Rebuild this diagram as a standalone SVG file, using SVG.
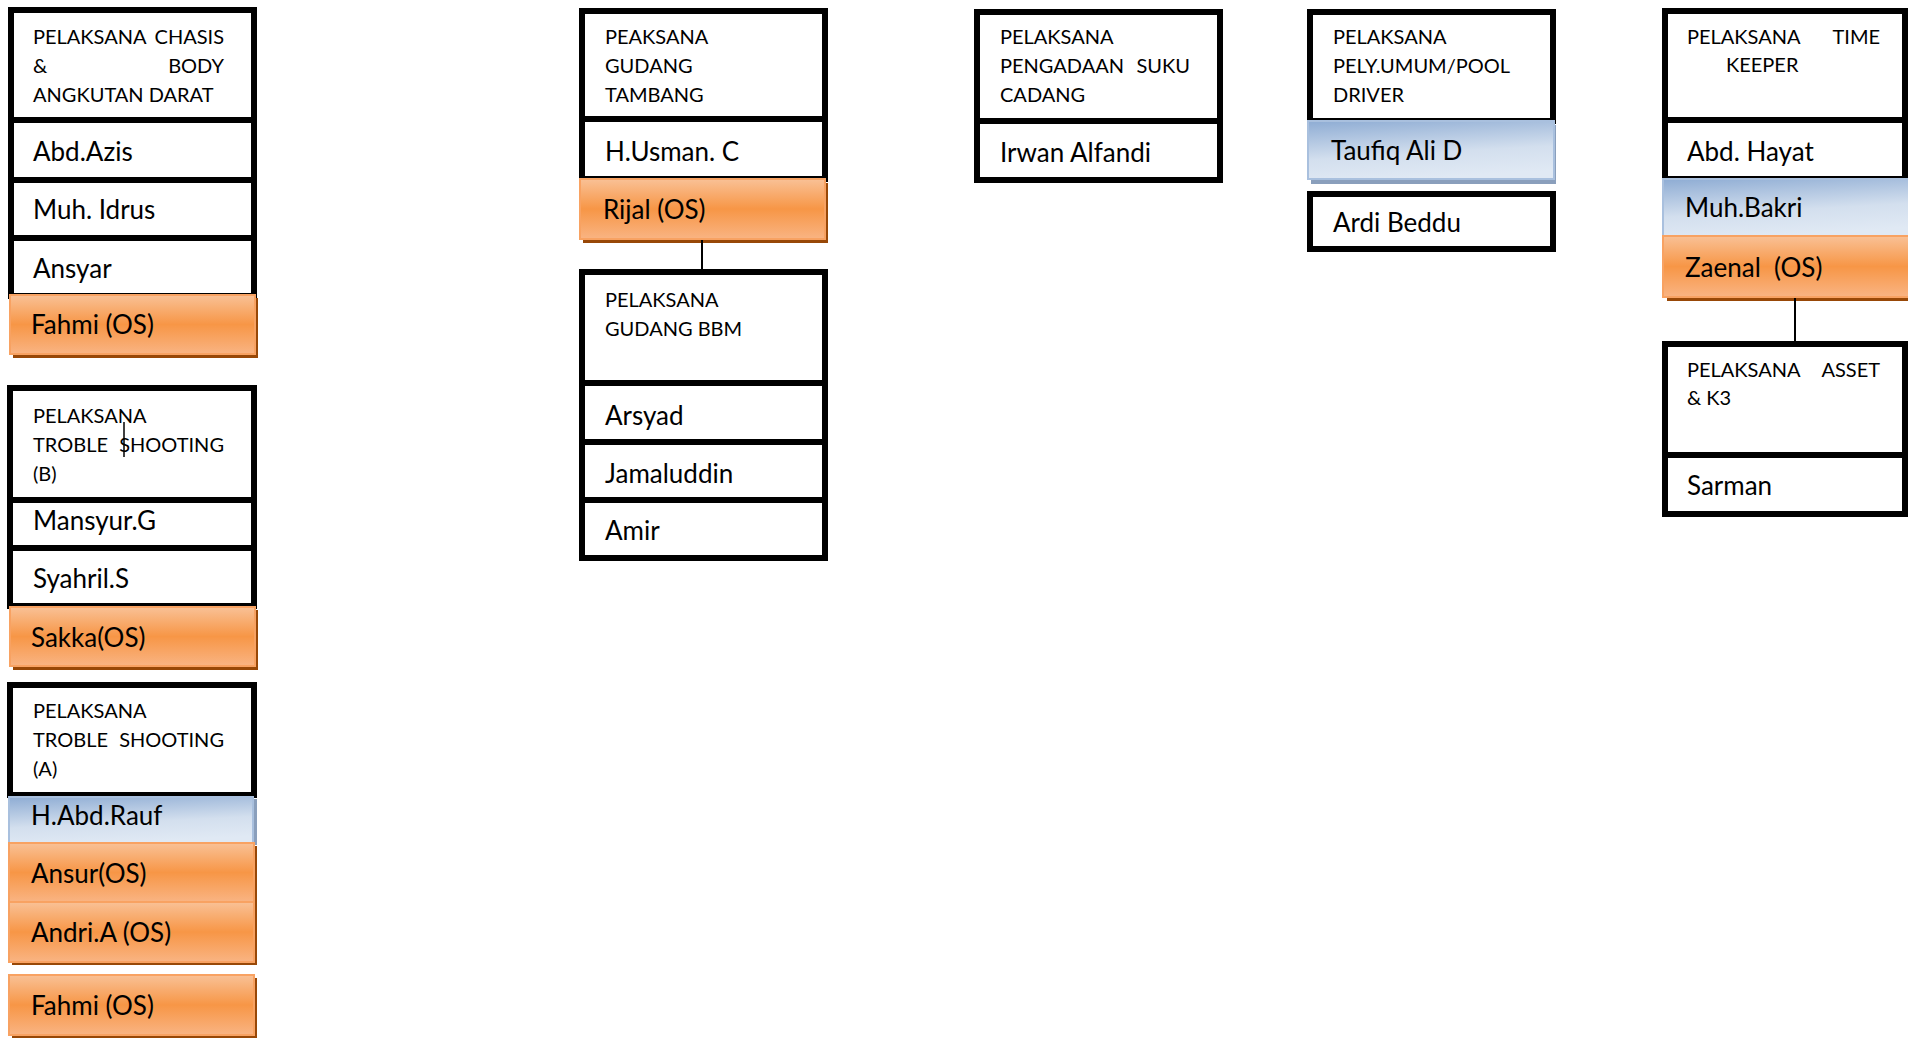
<svg xmlns="http://www.w3.org/2000/svg" width="1908" height="1038" viewBox="0 0 1908 1038">
<defs>
<linearGradient id="og" x1="0" y1="0" x2="0" y2="1">
<stop offset="0" stop-color="#f9c196"/>
<stop offset="0.5" stop-color="#f79646"/>
<stop offset="1" stop-color="#f9b483"/>
</linearGradient>
<linearGradient id="bg" x1="0.15" y1="0" x2="0.4" y2="1">
<stop offset="0" stop-color="#92afd5"/>
<stop offset="0.6" stop-color="#d3dfee"/>
<stop offset="1" stop-color="#e0e9f4"/>
</linearGradient>
<style>
.b{fill:#fff;stroke:#000;stroke-width:6}
.o{fill:url(#og);stroke:#f8a262;stroke-width:2}
.os{fill:#984807}
.bl{fill:url(#bg);stroke:#a9c0de;stroke-width:2}
.bs{fill:#8a9fbc}
.h{font-family:Lato,"Liberation Sans",sans-serif;font-size:20px;fill:#000}
.n{font-family:Lato,"Liberation Sans",sans-serif;font-size:26px;fill:#000;white-space:pre}
.c{stroke:#000;stroke-width:2;fill:none}
</style>
</defs>
<rect width="1908" height="1038" fill="#fff"/>

<g id="chasis">
<rect class="b" x="11" y="10" width="243" height="110"/>
<text class="h" x="33" y="44">PELAKSANA</text><text class="h" x="224" y="44" text-anchor="end">CHASIS</text>
<text class="h" x="33" y="73">&amp;</text><text class="h" x="224" y="73" text-anchor="end">BODY</text>
<text class="h" x="33" y="102">ANGKUTAN DARAT</text>
<rect class="b" x="11" y="120" width="243" height="60"/>
<text class="n" x="33" y="161">Abd.Azis</text>
<rect class="b" x="11" y="180" width="243" height="58"/>
<text class="n" x="33" y="219">Muh. Idrus</text>
<rect class="b" x="11" y="238" width="243" height="58"/>
<text class="n" x="33" y="278">Ansyar</text>
<rect class="os" x="13" y="298" width="245" height="60"/>
<rect class="o" x="10" y="295" width="245" height="59"/>
<text class="n" x="31" y="334">Fahmi (OS)</text>
</g>

<g id="troble-b">
<rect class="b" x="10" y="388" width="244" height="112"/>
<text class="h" x="33" y="423">PELAKSANA</text>
<text class="h" x="33" y="452">TROBLE</text><text class="h" x="224" y="452" text-anchor="end">SHOOTING</text>
<text class="h" x="33" y="481">(B)</text>
<line x1="124" y1="422" x2="124" y2="457" stroke="#000" stroke-width="1.5"/>
<rect class="b" x="10" y="500" width="244" height="48"/>
<text class="n" x="33" y="530">Mansyur.G</text>
<rect class="b" x="10" y="548" width="244" height="58"/>
<text class="n" x="33" y="588">Syahril.S</text>
<rect class="os" x="13" y="610" width="245" height="60"/>
<rect class="o" x="10" y="607" width="245" height="59"/>
<text class="n" x="31" y="647">Sakka(OS)</text>
</g>

<g id="troble-a">
<rect class="b" x="10" y="685" width="244" height="110"/>
<text class="h" x="33" y="718">PELAKSANA</text>
<text class="h" x="33" y="747">TROBLE</text><text class="h" x="224" y="747" text-anchor="end">SHOOTING</text>
<text class="h" x="33" y="776">(A)</text>
<rect class="bs" x="12" y="799" width="245" height="46"/>
<rect class="bl" x="9" y="797" width="244" height="46"/>
<text class="n" x="31" y="825">H.Abd.Rauf</text>
<rect class="os" x="12" y="846" width="245" height="119"/>
<rect class="o" x="9" y="843" width="245" height="59"/>
<text class="n" x="31" y="883">Ansur(OS)</text>
<rect class="o" x="9" y="902" width="245" height="60"/>
<text class="n" x="31" y="942">Andri.A (OS)</text>
<rect class="os" x="12" y="978" width="245" height="60"/>
<rect class="o" x="9" y="975" width="245" height="60"/>
<text class="n" x="31" y="1015">Fahmi (OS)</text>
</g>

<g id="gudang-tambang">
<rect class="b" x="582" y="11" width="243" height="108"/>
<text class="h" x="605" y="44">PEAKSANA</text>
<text class="h" x="605" y="73">GUDANG</text>
<text class="h" x="605" y="102">TAMBANG</text>
<rect class="b" x="582" y="119" width="243" height="60"/>
<text class="n" x="605" y="161">H.Usman. C</text>
<rect class="os" x="583" y="183" width="245" height="60"/>
<rect class="o" x="580" y="179" width="245" height="60"/>
<text class="n" x="603" y="219">Rijal (OS)</text>
</g>

<g id="gudang-bbm">
<rect class="b" x="582" y="272" width="243" height="111"/>
<text class="h" x="605" y="307">PELAKSANA</text>
<text class="h" x="605" y="336">GUDANG BBM</text>
<rect class="b" x="582" y="383" width="243" height="59"/>
<text class="n" x="605" y="425">Arsyad</text>
<rect class="b" x="582" y="442" width="243" height="58"/>
<text class="n" x="605" y="483">Jamaluddin</text>
<rect class="b" x="582" y="500" width="243" height="58"/>
<text class="n" x="605" y="540">Amir</text>
</g>

<g id="suku-cadang">
<rect class="b" x="977" y="12" width="243" height="109"/>
<text class="h" x="1000" y="44">PELAKSANA</text>
<text class="h" x="1000" y="73">PENGADAAN</text><text class="h" x="1190" y="73" text-anchor="end">SUKU</text>
<text class="h" x="1000" y="102">CADANG</text>
<rect class="b" x="977" y="121" width="243" height="59"/>
<text class="n" x="1000" y="162">Irwan Alfandi</text>
</g>

<g id="pool-driver">
<rect class="b" x="1310" y="12" width="243" height="109"/>
<text class="h" x="1333" y="44">PELAKSANA</text>
<text class="h" x="1333" y="73">PELY.UMUM/POOL</text>
<text class="h" x="1333" y="102">DRIVER</text>
<rect class="bs" x="1311" y="125" width="245" height="59"/>
<rect class="bl" x="1308" y="121" width="246" height="58"/>
<text class="n" x="1331" y="160">Taufiq Ali D</text>
<rect class="b" x="1310" y="194" width="243" height="55"/>
<text class="n" x="1333" y="232">Ardi Beddu</text>
</g>

<g id="time-keeper">
<rect class="b" x="1665" y="11" width="240" height="109"/>
<text class="h" x="1687" y="44">PELAKSANA</text><text class="h" x="1880" y="44" text-anchor="end">TIME</text>
<text class="h" x="1726" y="72">KEEPER</text>
<rect class="b" x="1665" y="120" width="240" height="59"/>
<text class="n" x="1687" y="161">Abd. Hayat</text>
<rect class="bl" x="1663" y="179" width="246" height="57"/>
<text class="n" x="1685" y="217">Muh.Bakri</text>
<rect class="os" x="1667" y="240" width="245" height="61"/>
<rect class="o" x="1663" y="236" width="246" height="61"/>
<text class="n" x="1685" y="277" xml:space="preserve">Zaenal  (OS)</text>
</g>

<g id="asset-k3">
<rect class="b" x="1665" y="344" width="240" height="111"/>
<text class="h" x="1687" y="377">PELAKSANA</text><text class="h" x="1880" y="377" text-anchor="end">ASSET</text>
<text class="h" x="1687" y="405">&amp; K3</text>
<rect class="b" x="1665" y="455" width="240" height="59"/>
<text class="n" x="1687" y="495">Sarman</text>
</g>

<g id="connectors">
<line class="c" x1="702" y1="240" x2="702" y2="270"/>
<line class="c" x1="1795" y1="298" x2="1795" y2="342"/>
</g>
</svg>
